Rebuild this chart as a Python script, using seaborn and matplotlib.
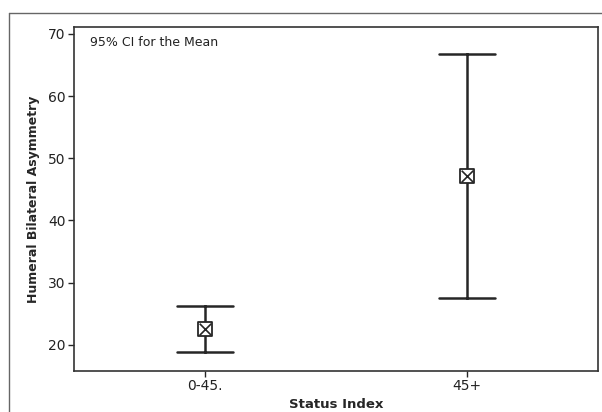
import pandas as pd
import matplotlib.pyplot as plt
from matplotlib.lines import Line2D
import seaborn as sns

# values (95% CI for the mean)
groups = ['0-45.', '45+']
means = [22.5, 47.2]
lower = [18.8, 27.5]
upper = [26.3, 66.7]

# long table: lower / mean / upper for each group -> median = mean, full range = CI
rows = []
for g, lo, m, hi in zip(groups, lower, means, upper):
    for v in (lo, m, hi):
        rows.append({'Status Index': g, 'value': v})
df = pd.DataFrame(rows)
df_mean = pd.DataFrame({'Status Index': groups, 'value': means})

sns.set_theme(style='white')
plt.rcParams['font.family'] = ['DejaVu Sans']

fig = plt.figure(figsize=(6.02, 4.12), dpi=100)
ax = fig.add_axes([74 / 602, 41 / 412, 524 / 602, 344 / 412])

dark = '#262626'

# CI bars with caps
sns.pointplot(data=df, x='Status Index', y='value', estimator='median',
              errorbar=('pi', 100), capsize=0.21, linestyle='none',
              marker='', color=dark, err_kws={'linewidth': 1.8}, ax=ax)

# mean symbol: square with a cross
sns.scatterplot(data=df_mean, x='Status Index', y='value', marker='s', s=110,
                facecolor='white', edgecolor=dark, linewidth=1.3, zorder=5, ax=ax)
sns.scatterplot(data=df_mean, x='Status Index', y='value', marker='x', s=70,
                color=dark, linewidth=1.2, zorder=6, ax=ax)

ax.set_xlim(-0.5, 1.5)
ax.set_ylim(15.8, 71.1)
ax.set_yticks([20, 30, 40, 50, 60, 70])

ax.set_xlabel('Status Index', fontsize=9.5, fontweight='bold', labelpad=3)
ax.set_ylabel('Humeral Bilateral Asymmetry', fontsize=9, fontweight='bold', labelpad=6)
ax.tick_params(axis='both', direction='out', length=4, width=1, color=dark,
               labelsize=10, pad=2, bottom=True, left=True, labelcolor='#222222')

for s in ax.spines.values():
    s.set_color('#333333')
    s.set_linewidth(1.2)

ax.text(0.03, 0.955, '95% CI for the Mean', transform=ax.transAxes,
        fontsize=9, va='center', ha='left', color='#222222')

# outer frame (only top and left edges visible)
fig.add_artist(Line2D([9 / 602, 1], [1 - 13 / 412, 1 - 13 / 412],
                      transform=fig.transFigure, color='#666666', linewidth=1))
fig.add_artist(Line2D([9 / 602, 9 / 602], [0, 1 - 13 / 412],
                      transform=fig.transFigure, color='#666666', linewidth=1))

fig.savefig('out.png', dpi=100)
